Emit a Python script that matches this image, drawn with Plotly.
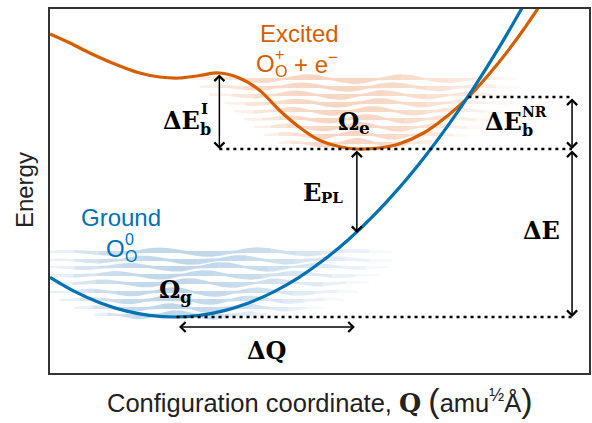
import numpy as np
import plotly.graph_objects as go

# ---- data (Q in arbitrary units, E in arbitrary units) ----
ground_q = [0, 0.25, 0.5, 0.75, 1.0, 1.25, 1.5, 1.75, 2.0, 2.25, 2.5, 2.75, 3.0, 3.25, 3.5, 3.75, 4.0, 4.25, 4.5, 4.75, 5.0]
ground_e = [0.957, 0.814, 0.703, 0.624, 0.576, 0.56, 0.576, 0.624, 0.703, 0.814, 0.957, 1.132, 1.338, 1.576, 1.846, 2.148, 2.481, 2.846, 3.243, 3.672, 4.13]

excited_q = [0, 0.2, 0.4, 0.65, 0.9, 1.1, 1.3, 1.5, 1.7, 1.9, 2.1, 2.3, 2.5, 2.7, 2.9, 3.08, 3.3, 3.5, 3.75, 4.0, 4.2, 4.5, 4.75, 5.0]
excited_e = [3.39, 3.30, 3.20, 3.09, 3.00, 2.96, 2.95, 2.975, 3.00, 2.95, 2.83, 2.63, 2.46, 2.33, 2.265, 2.24, 2.25, 2.29, 2.40, 2.58, 2.76, 3.10, 3.43, 3.80]

# key energies / coordinates
E_exc_min = 2.24      # excited minimum
E_gnd_min = 0.56      # ground minimum
E_barrier_I = 3.00    # barrier of excited curve (left shoulder)
E_cross = 2.76        # crossing point energy
Q_barrier = 1.70
Q_cross = 4.20
Q_gnd_min = 1.27
Q_exc_min = 3.06
Q_PL = 3.08
E_PL_end = 1.40
Q_right_arrows = 5.24
E_dQ = 0.46

# vibrational levels (decoration)
exc_levels = [2.94, 2.86, 2.78, 2.70, 2.62, 2.54, 2.46, 2.38, 2.30]
exc_spans = [(1.4, 4.7), (1.5, 4.7), (1.6, 4.65), (1.75, 4.6), (1.85, 4.55), (1.95, 4.45), (2.05, 4.35), (2.15, 4.2), (2.3, 3.95)]
gnd_levels = [1.21, 1.13, 1.06, 0.98, 0.90, 0.81, 0.73, 0.65, 0.58]
gnd_spans = [(0, 3.45), (0, 3.45), (0, 3.4), (0, 3.3), (0, 3.2), (0, 3.1), (0.1, 2.95), (0.25, 2.75), (0.45, 2.3)]

ORANGE = 'rgb(213,94,0)'
BLUE = 'rgb(0,114,178)'
SERIF = 'DejaVu Serif'
SANS = 'Liberation Sans, Arial, sans-serif'

fig = go.Figure()


def add_band(E, q0, q1, lam, phase, rgb, alpha, fade_right, A=0.04, t=0.009, nseg=14):
    edges = np.linspace(q0, q1, nseg + 1)
    for k in range(nseg):
        a, b = edges[k], edges[k + 1]
        q = np.linspace(a, b, 30)
        u = (q - q0) / (q1 - q0)
        env = np.sin(np.pi * u) ** 0.5
        s = A * env * np.sin(2 * np.pi * (q - q0) / lam + phase)
        top = E + np.maximum(s, 0) + t
        bot = E + np.minimum(s, 0) - t
        um = ((a + b) / 2 - q0) / (q1 - q0)
        w = np.sin(np.pi * um) ** 0.6 * (1 - fade_right * um)
        fig.add_trace(go.Scatter(x=np.concatenate([q, q[::-1]]), y=np.concatenate([top, bot[::-1]]),
                                 fill='toself', mode='lines', line=dict(width=0),
                                 fillcolor=f'rgba({rgb},{alpha * w:.3f})', hoverinfo='skip', showlegend=False))


for i, (E, (a, b)) in enumerate(zip(exc_levels, exc_spans)):
    add_band(E, a, b, 0.95 - 0.03 * i, 0.9 * i, '235,150,100', 0.5, 0.45)
for i, (E, (a, b)) in enumerate(zip(gnd_levels, gnd_spans)):
    add_band(E, a, b, 1.0 - 0.03 * i, 0.8 * i + 1.0, '90,150,200', 0.5, 0.55)

fig.add_trace(go.Scatter(x=excited_q, y=excited_e, mode='lines', line=dict(color=ORANGE, width=3.2, shape='spline', smoothing=1.0),
                         hoverinfo='skip', showlegend=False))
fig.add_trace(go.Scatter(x=ground_q, y=ground_e, mode='lines', line=dict(color=BLUE, width=3.2, shape='spline', smoothing=1.0),
                         hoverinfo='skip', showlegend=False))

# dotted reference lines
for (x0, x1, y) in [(Q_barrier, Q_right_arrows, E_exc_min), (Q_cross, Q_right_arrows, E_cross), (Q_gnd_min, Q_right_arrows, E_gnd_min)]:
    fig.add_shape(type='line', x0=x0, x1=x1, y0=y, y1=y, xref='x', yref='y',
                  line=dict(color='black', width=2.6, dash='3px,4px'))

ann = []


def arrow(x0, y0, x1, y1):
    ann.append(dict(x=x1, y=y1, ax=x0, ay=y0, xref='x', yref='y', axref='x', ayref='y', text='',
                    showarrow=True, arrowhead=4, startarrowhead=4, arrowside='end+start',
                    arrowsize=1.3, startarrowsize=1.3, arrowwidth=1.5, arrowcolor='black',
                    standoff=0, startstandoff=0))


def txt(x, y, text, size, color='black', family=SERIF, xanchor='center', yanchor='middle', xshift=0, yshift=0, xref='x', yref='y', angle=0):
    ann.append(dict(x=x, y=y, text=text, xref=xref, yref=yref, showarrow=False, xanchor=xanchor, yanchor=yanchor,
                    xshift=xshift, yshift=yshift, textangle=angle, font=dict(size=size, color=color, family=family)))


arrow(Q_barrier, E_barrier_I, Q_barrier, E_exc_min)
arrow(Q_PL, E_exc_min, Q_PL, E_PL_end)
arrow(Q_right_arrows, E_cross, Q_right_arrows, E_exc_min)
arrow(Q_right_arrows, E_exc_min, Q_right_arrows, E_gnd_min)
arrow(Q_gnd_min + 0.01, E_dQ, Q_exc_min, E_dQ)

# math labels
txt(1.51, 2.53, '<b>ΔE</b>', 24, xanchor='right', xshift=2)
txt(1.51, 2.53, '<b>b</b>', 16, xanchor='left', xshift=-2, yshift=-9)
txt(1.51, 2.53, '<b>I</b>', 15, xanchor='left', xshift=-1, yshift=11)

txt(4.74, 2.52, '<b>ΔE</b>', 24, xanchor='right', xshift=2)
txt(4.74, 2.52, '<b>b</b>', 16, xanchor='left', xshift=-2, yshift=-9)
txt(4.74, 2.52, '<b>NR</b>', 14, xanchor='left', xshift=-2, yshift=9)

txt(3.10, 2.52, '<b>Ω</b>', 24, xanchor='right', xshift=2)
txt(3.10, 2.52, '<b>e</b>', 17, xanchor='left', xshift=-2, yshift=-7)

txt(1.30, 0.84, '<b>Ω</b>', 24, xanchor='right', xshift=2)
txt(1.30, 0.84, '<b>g</b>', 17, xanchor='left', xshift=-2, yshift=-8)

txt(2.72, 1.81, '<b>E</b>', 24, xanchor='right', xshift=2)
txt(2.72, 1.81, '<b>PL</b>', 15, xanchor='left', xshift=-2, yshift=-6)

txt(4.93, 1.43, '<b>ΔE</b>', 24)
txt(2.18, 0.23, '<b>ΔQ</b>', 24)

# state labels
txt(2.5, 3.40, 'Excited', 24, color=ORANGE, family=SANS)
txt(2.26, 3.10, 'O', 24, color=ORANGE, family=SANS, xanchor='right', xshift=2)
txt(2.26, 3.10, 'O', 16, color=ORANGE, family=SANS, xanchor='left', xshift=-2, yshift=-8)
txt(2.26, 3.10, '+', 16, color=ORANGE, family=SANS, xanchor='left', xshift=-2, yshift=9)
txt(2.43, 3.10, '+ e<sup>−</sup>', 24, color=ORANGE, family=SANS, xanchor='left')

txt(0.71, 1.56, 'Ground', 24, color=BLUE, family=SANS)
txt(0.75, 1.25, 'O', 24, color=BLUE, family=SANS, xanchor='right', xshift=2)
txt(0.75, 1.25, 'O', 16, color=BLUE, family=SANS, xanchor='left', xshift=-2, yshift=-8)
txt(0.75, 1.25, '0', 16, color=BLUE, family=SANS, xanchor='left', xshift=-2, yshift=9)

# axis titles
txt(-0.046, 0.503, 'Energy', 24, color='#222', family=SANS, xref='paper', yref='paper', angle=-90)
txt(0.5, -0.075, 'Configuration coordinate, <span style="font-family:DejaVu Serif"><b>Q</b></span> '
                 '<span style="font-size:34px">(</span>amu<sup>½</sup>Å<span style="font-size:34px">)</span>',
    25.5, color='#222', family=SANS, xref='paper', yref='paper')

fig.update_layout(
    width=592, height=423,
    margin=dict(l=50, r=1, t=9, b=50),
    paper_bgcolor='white', plot_bgcolor='white',
    annotations=ann,
    xaxis=dict(range=[0, 5.41], showticklabels=False, ticks='', showgrid=False, zeroline=False,
               showline=True, mirror=True, linecolor='#333', linewidth=1.5),
    yaxis=dict(range=[0, 3.64], showticklabels=False, ticks='', showgrid=False, zeroline=False,
               showline=True, mirror=True, linecolor='#333', linewidth=1.5),
)

fig.write_html('out.html', config={'displayModeBar': False},
               post_script="document.body.style.margin='0';document.body.style.overflow='hidden';")
